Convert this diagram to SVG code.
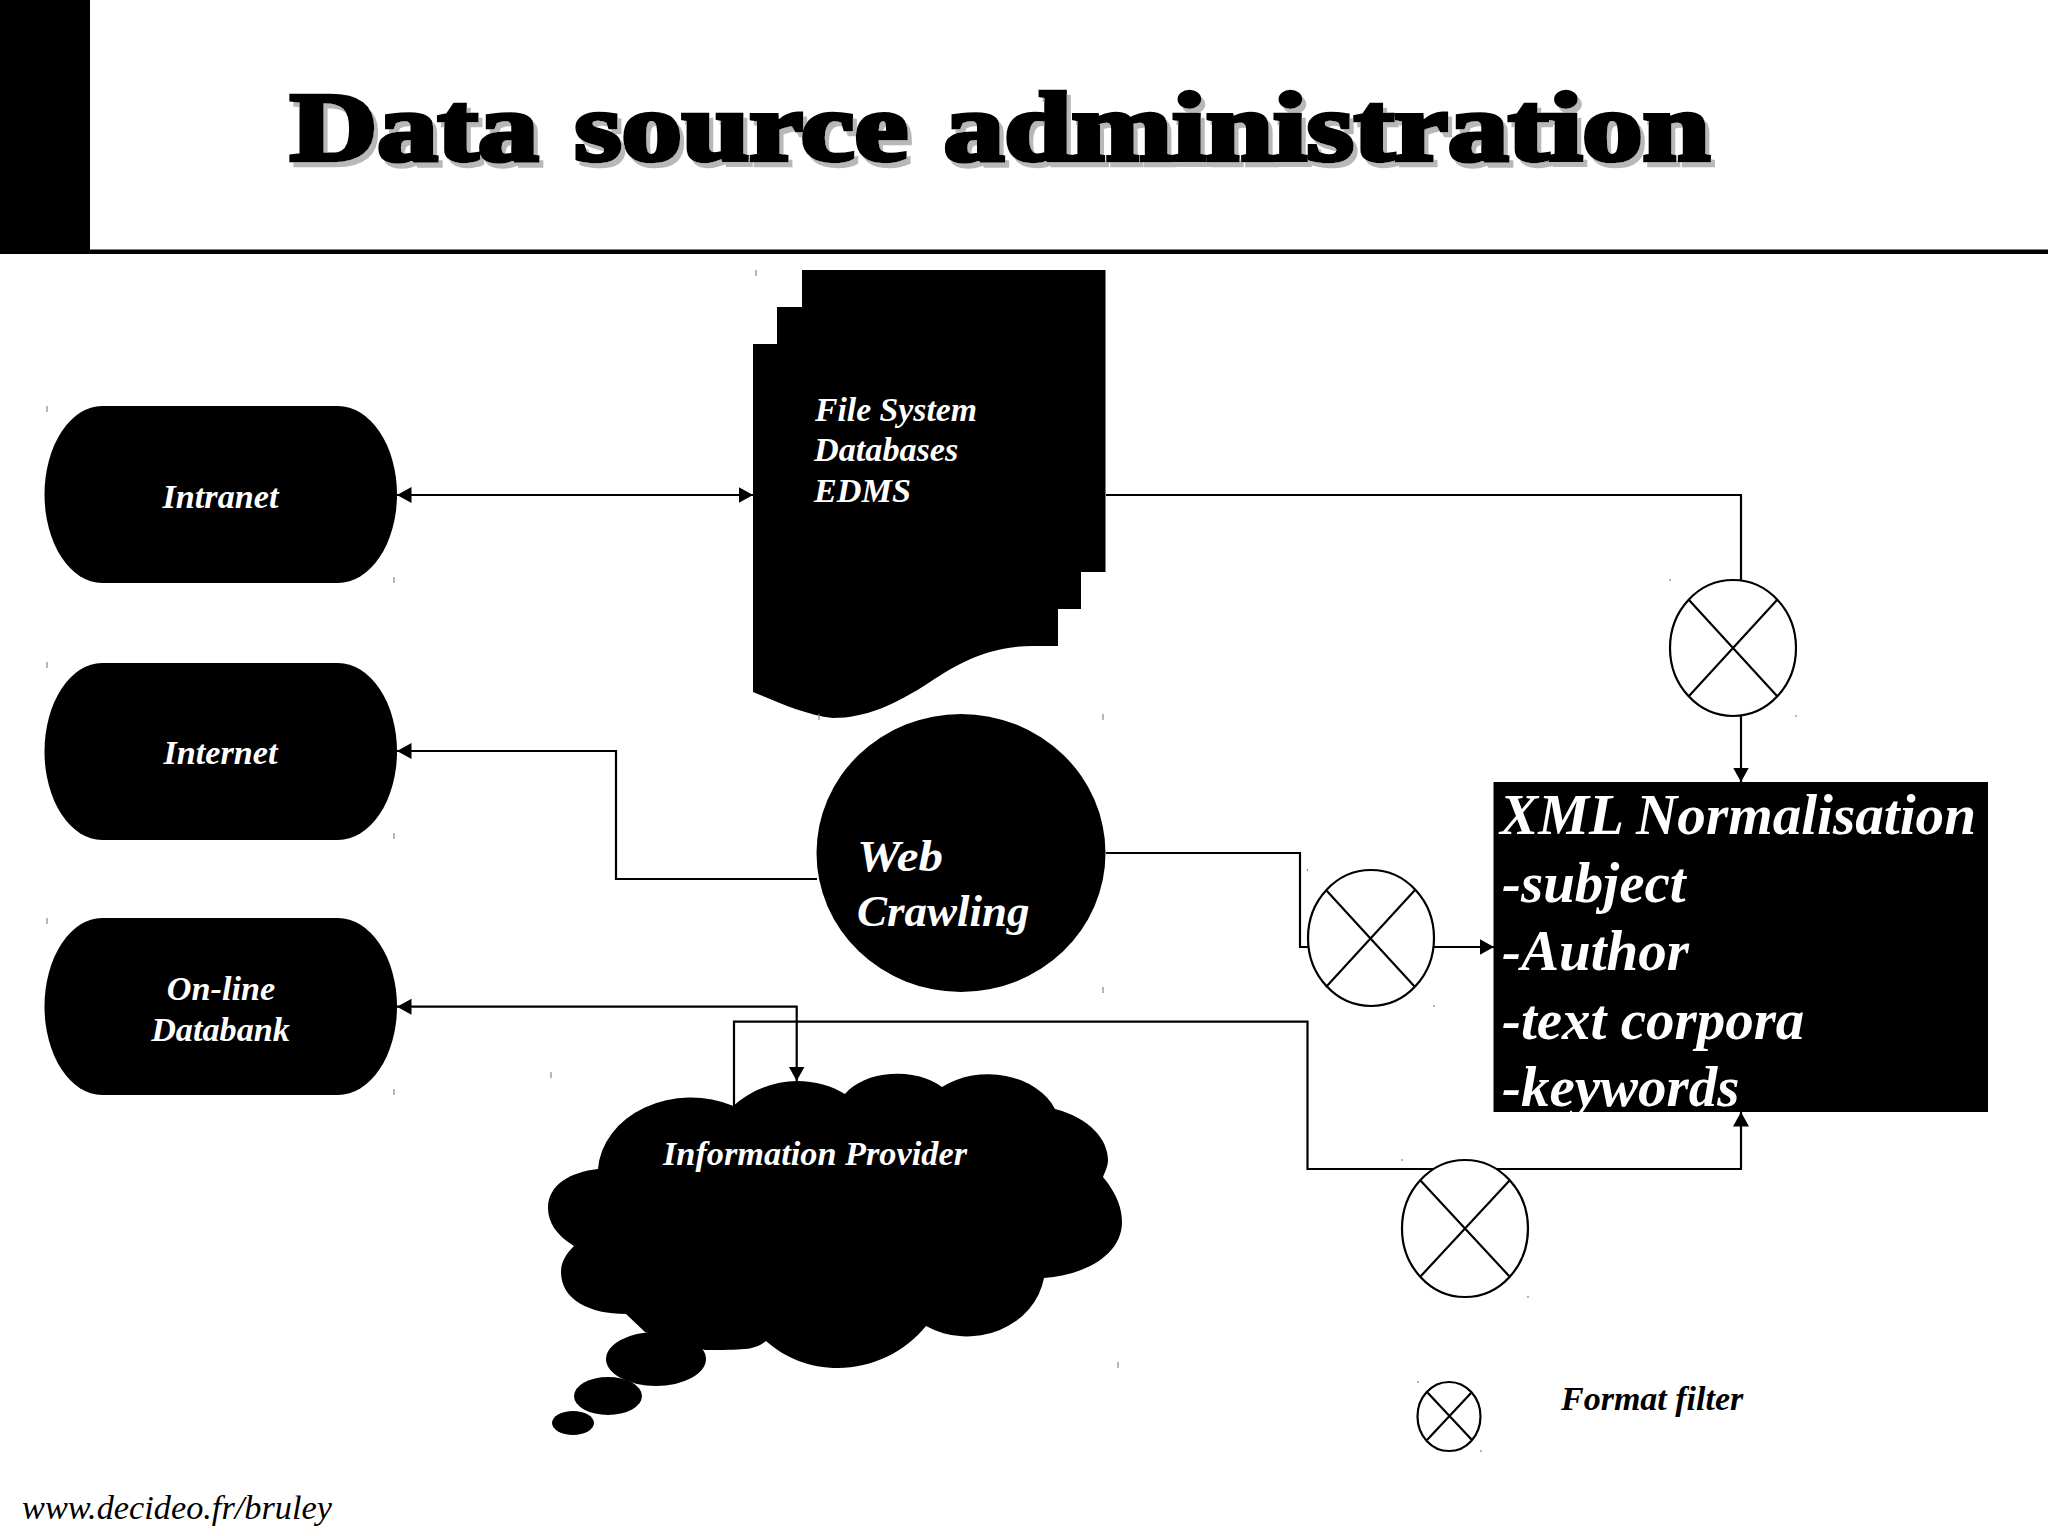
<svg xmlns="http://www.w3.org/2000/svg" width="2048" height="1536" viewBox="0 0 2048 1536">
<style>
text{font-family:"Liberation Serif","Times New Roman",serif;font-style:italic;font-weight:bold;fill:#fff}
.s{font-size:34.2px}
.m{text-anchor:middle}
.x{font-size:57px}
.w{font-size:45px}
.k{fill:#000}
.title{font-style:normal;font-size:98px;fill:#000;stroke:#000;stroke-width:4.5px;word-spacing:4.5px}
.foot{font-weight:normal;font-size:34.3px;fill:#000}
.c{fill:none;stroke:#000;stroke-width:2.2}
.f{fill:#fff;stroke:#000;stroke-width:2.2}
.tick{fill:none;stroke:#888;stroke-width:1.2}
</style>
<defs>
<marker id="a" markerUnits="userSpaceOnUse" markerWidth="15" markerHeight="17" refX="14.5" refY="8" orient="auto-start-reverse"><path d="M0,0L14.5,8L0,16Z" fill="#000"/></marker>
<filter id="sh" x="-2%" y="-10%" width="104%" height="125%"><feDropShadow dx="4" dy="5" stdDeviation="0.4" flood-color="#b8b8b8"/></filter>
<path id="term" d="M102,0H338A59,88.5 0 0 1 338,177H102A57.5,88.5 0 0 1 102,0Z"/>
</defs>
<rect width="2048" height="1536" fill="#fff"/>
<g id="header">
<rect x="0" y="0" width="90" height="254" fill="#000"/>
<rect x="0" y="249.5" width="2048" height="4.5" fill="#000"/>
<text class="title" x="290" y="160" textLength="1420" lengthAdjust="spacingAndGlyphs" filter="url(#sh)">Data source administration</text>
</g>
<g id="connectors">
<path class="c" d="M397,495H753" marker-start="url(#a)" marker-end="url(#a)"/>
<path class="c" d="M817,879H616V751H397" marker-end="url(#a)"/>
<path class="c" d="M397,1006.7H796.7V1081" marker-start="url(#a)" marker-end="url(#a)"/>
<path class="c" d="M734,1106V1021.7H1307.5V1169H1741V1112" marker-end="url(#a)"/>
<path class="c" d="M1106,495H1741V580"/>
<path class="c" d="M1741,716V782" marker-end="url(#a)"/>
<path class="c" d="M1106,853H1300V947H1308"/>
<path class="c" d="M1434,947H1494" marker-end="url(#a)"/>
</g>
<g id="intranet"><use href="#term" y="406"/><text class="s m" x="220.5" y="508">Intranet</text></g>
<g id="internet"><use href="#term" y="663"/><text class="s m" x="220.5" y="764">Internet</text></g>
<g id="databank"><use href="#term" y="918"/><text class="s m" x="221" y="1000">On-line</text><text class="s m" x="220.5" y="1041">Databank</text></g>
<g id="filesystem">
<path d="M753,344H777V307H802V270H1105.5V572H1081V609H1058V646H1033C990,646 960,662 930,682C895,705 865,718 833,718C805,715 775,701 753,692Z"/>
<text class="s" x="815" y="421" textLength="162" lengthAdjust="spacingAndGlyphs">File System</text>
<text class="s" x="814" y="461">Databases</text>
<text class="s" x="814" y="502">EDMS</text>
</g>
<g id="webcrawling">
<ellipse cx="961" cy="853" rx="144.5" ry="139"/>
<text class="w" x="857" y="871" textLength="86" lengthAdjust="spacingAndGlyphs">Web</text>
<text class="w" x="857" y="926">Crawling</text>
</g>
<g id="provider">
<path d="M598,1169A93,76 0 0 1 733.5,1106C750,1090 775,1081 797,1081C815,1081 832,1086 845,1094A60,40 0 0 1 942,1087A72,55 0 0 1 1055,1109C1090,1118 1108,1140 1108,1160C1108,1166 1105,1172 1103,1177C1118,1195 1122,1210 1122,1222C1122,1255 1085,1275 1044,1278A78,70 0 0 1 926,1326C905,1352 872,1368 838,1368C810,1368 785,1358 766,1341C755,1350 745,1350 705,1350L645,1332L626,1314C590,1314 561,1300 561,1272C561,1262 566,1254 574,1246C556,1235 548,1222 548,1208C548,1185 570,1172 598,1169Z"/>
<ellipse cx="656" cy="1359" rx="50" ry="27"/>
<ellipse cx="608" cy="1396" rx="34" ry="19"/>
<ellipse cx="573" cy="1423" rx="21" ry="12"/>
<text class="s" x="663" y="1165" textLength="304" lengthAdjust="spacingAndGlyphs">Information Provider</text>
</g>
<g id="filter1"><ellipse class="f" cx="1733" cy="648" rx="63" ry="68"/><path class="c" d="M1689,600L1777,696M1777,600L1689,696"/></g>
<g id="filter2"><ellipse class="f" cx="1371" cy="938" rx="63" ry="68"/><path class="c" d="M1326,890L1415,987M1415,890L1326,987"/></g>
<g id="filter3"><ellipse class="f" cx="1465" cy="1228.5" rx="63" ry="68.5"/><path class="c" d="M1420,1180L1510,1277M1510,1180L1420,1277"/></g>
<g id="normalisation">
<rect x="1493.5" y="782" width="494.5" height="330"/>
<text class="x" x="1500" y="834" textLength="476" lengthAdjust="spacingAndGlyphs">XML Normalisation</text>
<text class="x" x="1502" y="902">-subject</text>
<text class="x" x="1502" y="970">-Author</text>
<text class="x" x="1502" y="1038.5">-text corpora</text>
<text class="x" x="1502" y="1106">-keywords</text>
</g>
<g id="legend">
<ellipse class="f" cx="1449" cy="1416.5" rx="31.5" ry="34.5"/>
<path class="c" d="M1427,1392L1472,1440M1472,1392L1427,1440"/>
<text class="s k" x="1561" y="1410" style="font-size:34px">Format filter</text>
</g>
<text class="foot" x="22" y="1519">www.decideo.fr/bruley</text>
<path class="tick" d="M756,270v6M819,714v6M1103,714v6M1103,987v6M47,406v6M394,577v6M47,662v6M394,833v6M47,918v6M394,1089v6M551,1072v6M1118,1362v6M1670,579v2M1796,715v2M1307.5,869v2M1434,1005v2M1402,1159v2M1528,1296v2M1418,1381v2M1481,1450v2"/>
</svg>
